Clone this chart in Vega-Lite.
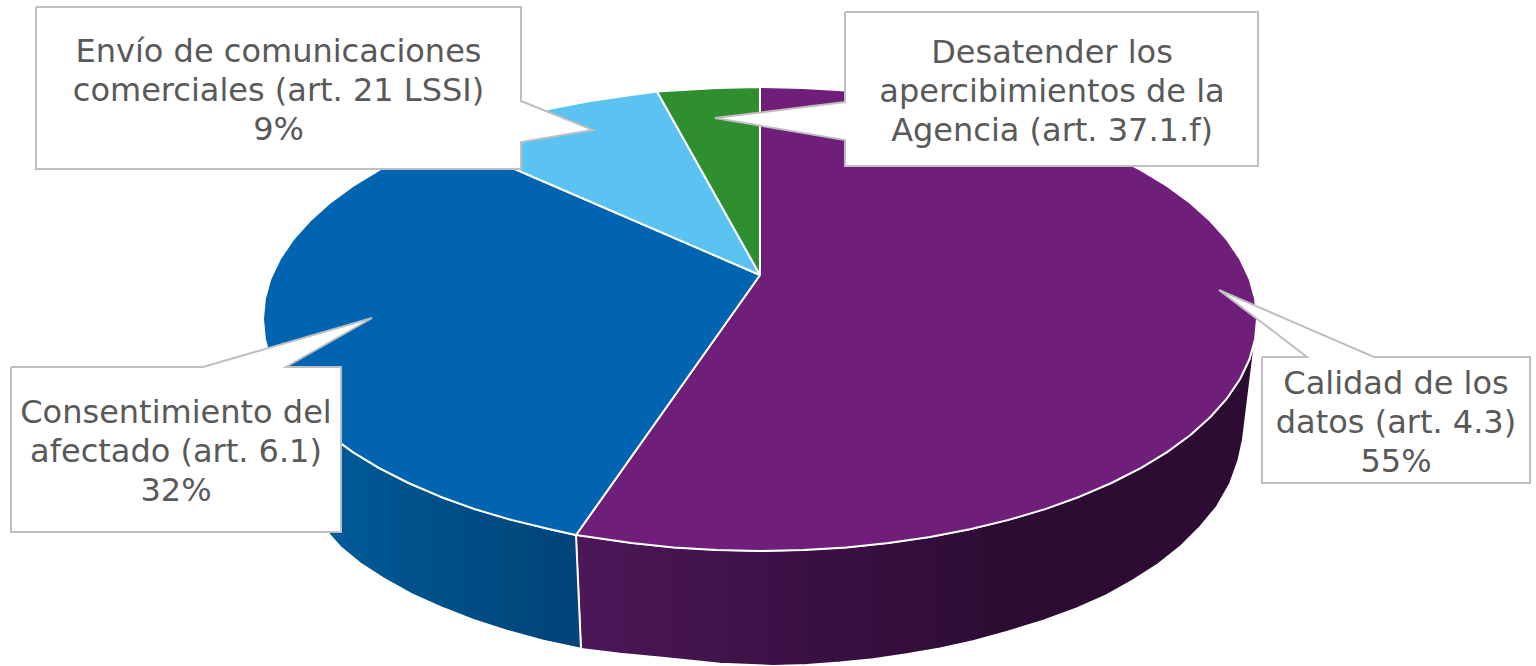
{"$schema":"https://vega.github.io/schema/vega-lite/v6.json","width":1536,"height":666,"padding":0,"autosize":{"type":"none"},"background":"white","config":{"view":{"stroke":null}},
"datasets":{
"wallP":[{"i":0,"x":576,"y":535},{"i":1,"x":590,"y":537},{"i":2,"x":631.4,"y":543.1},{"i":3,"x":673.7,"y":547.5},{"i":4,"x":716.7,"y":550.1},{"i":5,"x":760,"y":551},{"i":6,"x":803.3,"y":550.1},{"i":7,"x":846.3,"y":547.5},{"i":8,"x":888.6,"y":543.1},{"i":9,"x":930,"y":537},{"i":10,"x":970,"y":529.3},{"i":11,"x":1008.5,"y":519.9},{"i":12,"x":1045.1,"y":509.1},{"i":13,"x":1079.5,"y":496.7},{"i":14,"x":1111.4,"y":483},{"i":15,"x":1140.7,"y":468.1},{"i":16,"x":1167.1,"y":452.1},{"i":17,"x":1190.4,"y":435},{"i":18,"x":1210.4,"y":417},{"i":19,"x":1227,"y":398.3},{"i":20,"x":1240.1,"y":379},{"i":21,"x":1249.5,"y":359.3},{"i":22,"x":1255,"y":340},{"i":23,"x":1242.7,"y":440},{"i":24,"x":1238.3,"y":460},{"i":25,"x":1230,"y":483.3},{"i":26,"x":1216.7,"y":506.7},{"i":27,"x":1200,"y":526.7},{"i":28,"x":1180,"y":546.7},{"i":29,"x":1156.7,"y":565},{"i":30,"x":1133.3,"y":580},{"i":31,"x":1106.7,"y":595},{"i":32,"x":1076.7,"y":608.3},{"i":33,"x":1043.3,"y":620.5},{"i":34,"x":1006.7,"y":631.7},{"i":35,"x":973,"y":641},{"i":36,"x":940,"y":648.3},{"i":37,"x":906.7,"y":654},{"i":38,"x":873,"y":659},{"i":39,"x":840,"y":662.3},{"i":40,"x":806.7,"y":664.7},{"i":41,"x":773,"y":665.7},{"i":42,"x":720,"y":663.5},{"i":43,"x":667,"y":658},{"i":44,"x":620,"y":653.5},{"i":45,"x":581,"y":648.8},{"i":46,"x":576,"y":535}],
"wallB":[{"i":0,"x":293,"y":398.3},{"i":1,"x":309.6,"y":417},{"i":2,"x":329.6,"y":435},{"i":3,"x":352.9,"y":452.1},{"i":4,"x":379.3,"y":468.1},{"i":5,"x":408.6,"y":483},{"i":6,"x":440.5,"y":496.7},{"i":7,"x":474.9,"y":509.1},{"i":8,"x":511.5,"y":519.9},{"i":9,"x":550,"y":529.3},{"i":10,"x":576,"y":535},{"i":11,"x":581,"y":648.8},{"i":12,"x":543.3,"y":640.7},{"i":13,"x":506.7,"y":630.7},{"i":14,"x":473.3,"y":620},{"i":15,"x":443.3,"y":608.3},{"i":16,"x":413.3,"y":595},{"i":17,"x":383.3,"y":578.3},{"i":18,"x":360,"y":563.3},{"i":19,"x":340,"y":546.7},{"i":20,"x":328.3,"y":533.3},{"i":21,"x":305,"y":505},{"i":22,"x":293,"y":398.3}],
"purple":[{"i":0,"x":760,"y":275},{"i":1,"x":760,"y":87},{"i":2,"x":803.3,"y":87.9},{"i":3,"x":846.3,"y":90.5},{"i":4,"x":888.6,"y":94.9},{"i":5,"x":930,"y":101},{"i":6,"x":970,"y":108.7},{"i":7,"x":1008.5,"y":118.1},{"i":8,"x":1045.1,"y":128.9},{"i":9,"x":1079.5,"y":141.3},{"i":10,"x":1111.4,"y":155},{"i":11,"x":1140.7,"y":169.9},{"i":12,"x":1167.1,"y":185.9},{"i":13,"x":1190.4,"y":203},{"i":14,"x":1210.4,"y":221},{"i":15,"x":1227,"y":239.7},{"i":16,"x":1240.1,"y":259},{"i":17,"x":1249.5,"y":278.7},{"i":18,"x":1255.1,"y":298.8},{"i":19,"x":1257,"y":319},{"i":20,"x":1255.1,"y":339.2},{"i":21,"x":1249.5,"y":359.3},{"i":22,"x":1240.1,"y":379},{"i":23,"x":1227,"y":398.3},{"i":24,"x":1210.4,"y":417},{"i":25,"x":1190.4,"y":435},{"i":26,"x":1167.1,"y":452.1},{"i":27,"x":1140.7,"y":468.1},{"i":28,"x":1111.4,"y":483},{"i":29,"x":1079.5,"y":496.7},{"i":30,"x":1045.1,"y":509.1},{"i":31,"x":1008.5,"y":519.9},{"i":32,"x":970,"y":529.3},{"i":33,"x":930,"y":537},{"i":34,"x":888.6,"y":543.1},{"i":35,"x":846.3,"y":547.5},{"i":36,"x":803.3,"y":550.1},{"i":37,"x":760,"y":551},{"i":38,"x":716.7,"y":550.1},{"i":39,"x":673.7,"y":547.5},{"i":40,"x":631.4,"y":543.1},{"i":41,"x":590,"y":537},{"i":42,"x":576,"y":535},{"i":43,"x":760,"y":275}],
"blue":[{"i":0,"x":760,"y":275},{"i":1,"x":576,"y":535},{"i":2,"x":550,"y":529.3},{"i":3,"x":511.5,"y":519.9},{"i":4,"x":474.9,"y":509.1},{"i":5,"x":440.5,"y":496.7},{"i":6,"x":408.6,"y":483},{"i":7,"x":379.3,"y":468.1},{"i":8,"x":352.9,"y":452.1},{"i":9,"x":329.6,"y":435},{"i":10,"x":309.6,"y":417},{"i":11,"x":293,"y":398.3},{"i":12,"x":279.9,"y":379},{"i":13,"x":270.5,"y":359.3},{"i":14,"x":264.9,"y":339.2},{"i":15,"x":263,"y":319},{"i":16,"x":264.9,"y":298.8},{"i":17,"x":270.5,"y":278.7},{"i":18,"x":279.9,"y":259},{"i":19,"x":293,"y":239.7},{"i":20,"x":309.6,"y":221},{"i":21,"x":329.6,"y":203},{"i":22,"x":352.9,"y":185.9},{"i":23,"x":379.3,"y":169.9},{"i":24,"x":408.6,"y":155},{"i":25,"x":440.5,"y":141.3},{"i":26,"x":446.5,"y":139.5},{"i":27,"x":760,"y":275}],
"sky":[{"i":0,"x":760,"y":275},{"i":1,"x":446.5,"y":139.5},{"i":2,"x":474.9,"y":128.9},{"i":3,"x":511.5,"y":118.1},{"i":4,"x":550,"y":108.7},{"i":5,"x":590,"y":101},{"i":6,"x":631.4,"y":94.9},{"i":7,"x":657,"y":91.5},{"i":8,"x":760,"y":275}],
"green":[{"i":0,"x":760,"y":275},{"i":1,"x":657,"y":91.5},{"i":2,"x":673.7,"y":90.5},{"i":3,"x":716.7,"y":87.9},{"i":4,"x":760,"y":87},{"i":5,"x":760,"y":275}],
"boxes":[
{"box":"A","i":0,"x":36,"y":7},{"box":"A","i":1,"x":521,"y":7},{"box":"A","i":2,"x":521,"y":101},{"box":"A","i":3,"x":593,"y":130},{"box":"A","i":4,"x":521,"y":142},{"box":"A","i":5,"x":521,"y":169},{"box":"A","i":6,"x":36,"y":169},{"box":"A","i":7,"x":36,"y":7},
{"box":"B","i":0,"x":845,"y":12},{"box":"B","i":1,"x":1258,"y":12},{"box":"B","i":2,"x":1258,"y":166},{"box":"B","i":3,"x":845,"y":166},{"box":"B","i":4,"x":845,"y":140},{"box":"B","i":5,"x":715,"y":118},{"box":"B","i":6,"x":845,"y":102},{"box":"B","i":7,"x":845,"y":12},
{"box":"C","i":0,"x":1262,"y":357},{"box":"C","i":1,"x":1307,"y":357},{"box":"C","i":2,"x":1219,"y":290},{"box":"C","i":3,"x":1374,"y":357},{"box":"C","i":4,"x":1530,"y":357},{"box":"C","i":5,"x":1530,"y":483},{"box":"C","i":6,"x":1262,"y":483},{"box":"C","i":7,"x":1262,"y":357},
{"box":"D","i":0,"x":11,"y":367},{"box":"D","i":1,"x":203,"y":367},{"box":"D","i":2,"x":372,"y":318},{"box":"D","i":3,"x":286,"y":367},{"box":"D","i":4,"x":341,"y":367},{"box":"D","i":5,"x":341,"y":532},{"box":"D","i":6,"x":11,"y":532},{"box":"D","i":7,"x":11,"y":367}],
"labels":[
{"line":"Envío de comunicaciones","x":278.5,"y":52},{"line":"comerciales (art. 21 LSSI)","x":278.5,"y":91},{"line":"9%","x":278.5,"y":130},
{"line":"Desatender los","x":1052,"y":53},{"line":"apercibimientos de la","x":1052,"y":92},{"line":"Agencia (art. 37.1.f)","x":1052,"y":131},
{"line":"Calidad de los","x":1396,"y":384},{"line":"datos (art. 4.3)","x":1396,"y":423},{"line":"55%","x":1396,"y":462},
{"line":"Consentimiento del","x":176,"y":413},{"line":"afectado (art. 6.1)","x":176,"y":452},{"line":"32%","x":176,"y":491}]
},
"encoding":{"x":{"field":"x","type":"quantitative","scale":{"domain":[0,1536],"nice":false,"zero":false},"axis":null},"y":{"field":"y","type":"quantitative","scale":{"domain":[666,0],"nice":false,"zero":false},"axis":null},"order":{"field":"i","type":"quantitative"}},
"layer":[
{"data":{"name":"wallP"},"mark":{"type":"line","strokeWidth":1.5,"stroke":"#ffffff","strokeJoin":"round","fill":{"gradient":"linear","x1":0,"y1":0,"x2":1,"y2":0,"stops":[{"offset":0,"color":"#4d1758"},{"offset":0.35,"color":"#3a1044"},{"offset":0.65,"color":"#2c0c32"},{"offset":1,"color":"#2c0c32"}]}}},
{"data":{"name":"wallB"},"mark":{"type":"line","strokeWidth":2,"stroke":"#ffffff","strokeJoin":"round","fill":{"gradient":"linear","x1":0,"y1":0,"x2":1,"y2":0,"stops":[{"offset":0,"color":"#00609f"},{"offset":0.4,"color":"#00528c"},{"offset":1,"color":"#00447a"}]}}},
{"data":{"name":"purple"},"mark":{"type":"line","fill":"#6f1f7a","stroke":"#ffffff","strokeWidth":2,"strokeJoin":"round"}},
{"data":{"name":"blue"},"mark":{"type":"line","fill":"#0064b0","stroke":"#ffffff","strokeWidth":2,"strokeJoin":"round"}},
{"data":{"name":"sky"},"mark":{"type":"line","fill":"#5ac3f2","stroke":"#ffffff","strokeWidth":2,"strokeJoin":"round"}},
{"data":{"name":"green"},"mark":{"type":"line","fill":"#2f8f2f","stroke":"#ffffff","strokeWidth":2,"strokeJoin":"round"}},
{"data":{"name":"boxes"},"mark":{"type":"line","fill":"#ffffff","stroke":"#bfbfbf","strokeWidth":2,"strokeJoin":"miter"},"encoding":{"detail":{"field":"box","type":"nominal"}}},
{"data":{"name":"labels"},"mark":{"type":"text","font":"DejaVu Sans","fontSize":32,"fill":"#595959","align":"center","baseline":"middle"},"encoding":{"text":{"field":"line","type":"nominal"},"order":null}}
]}
